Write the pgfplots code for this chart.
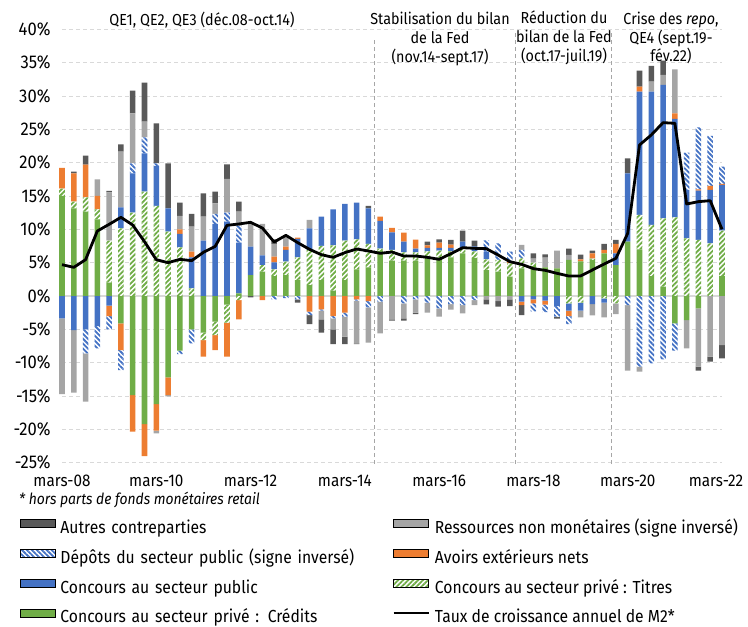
\documentclass[border=0pt]{standalone}
\usepackage{fontspec}
\setmainfont{Fira Sans}[FakeStretch=0.9]
\usepackage{pgfplots}
\pgfplotsset{compat=1.18}
\usepackage{pgfplotstable}
\usetikzlibrary{patterns.meta}

\definecolor{cAut}{HTML}{595959}
\definecolor{cRes}{HTML}{A5A5A5}
\definecolor{cBlue}{HTML}{4472C4}
\definecolor{cOra}{HTML}{ED7D31}
\definecolor{cGrn}{HTML}{70AD47}
\definecolor{cGrid}{HTML}{D9D9D9}
\definecolor{cVl}{HTML}{A6A6A6}

\pgfplotstableread{
i crd tit pub avo dep res aut m2
0 15.0 1.1 -3.35 3.1 0 -11.35 0 4.7
1 13.15 1.0 -5.1 4.25 0 -9.4 0.25 4.3
2 12.65 2.15 -5.0 4.9 -3.6 -7.25 1.35 5.45
3 11.5 1.5 -4.5 2.0 -3.35 2.5 0 9.75
4 2.0 6.3 -1.45 -1.55 -2.0 7.25 0.2 10.75
5 -4.1 10.15 3.15 -4.0 -3.0 8.35 1.1 11.8
6 -14.85 12.5 5.9 -5.5 1.5 7.5 3.4 10.65
7 -19.2 15.65 5.75 -4.8 2.4 2.35 5.85 8.15
8 -16.2 13.5 6.0 -4.0 0.4 -0.4 6.0 5.45
9 -12.2 9.65 3.5 -2.65 0 -0.2 6.75 5.0
10 -8.2 7.3 2.0 0.7 -0.5 2.0 2.0 5.5
11 -5.0 1.15 4.65 0.85 -2.1 3.75 1.9 5.3
12 -5.5 -1.1 8.3 -2.5 0 3.6 3.5 6.55
13 -3.85 -2.0 10.8 -2.25 1.5 1.6 1.75 7.45
14 -1.3 -2.7 11.15 -5.1 1.35 5.05 2.2 10.6
15 0.4 -0.6 7.6 -2.9 2.5 2.15 1.5 10.8
16 3.15 0 4.25 0 0 3.6 -0.2 11.05
17 3.65 1.0 1.45 -0.6 0 4.7 0 10.2
18 3.0 1.0 1.05 0.85 -0.5 1.9 0.7 8.1
19 3.15 2.0 1.75 0.5 -0.3 1.7 0 9.1
20 2.4 3.4 2.75 0.2 -0.5 0 -0.5 8.0
21 1.65 5.25 3.25 -2.35 -0.5 1.25 -1.35 7.0
22 2.4 5.1 4.4 -2.0 -0.2 -1.3 -2.0 6.2
23 0.8 6.8 5.4 -3.0 -0.35 -1.65 -2.2 5.8
24 2.4 5.9 5.5 -2.5 -0.6 -3.0 -1.1 6.5
25 4.0 4.5 5.5 -0.5 -0.2 -6.4 -0.1 7.05
26 4.3 3.5 5.35 -0.75 -0.95 -5.3 0.35 6.75
27 6.75 0.35 4.15 0.65 -0.85 -4.75 0 6.4
28 5.3 1.6 2.65 0.65 0 -3.5 -0.2 6.6
29 5.3 1.25 1.6 1.35 -1.1 -2.25 -0.35 6.0
30 5.3 1.25 0.55 1.35 -0.5 -2.0 -0.2 6.0
31 5.8 0.9 0.5 0.4 -1.0 -1.5 0.55 5.8
32 5.8 1.0 0.4 0.8 -1.85 -1.25 0.5 5.5
33 5.8 0.9 0.5 0.5 -1.2 -0.85 0.7 6.35
34 6.4 0.85 0.9 0 -1.35 -1.25 1.65 7.25
35 5.7 1.0 0.75 0 -0.6 -0.75 0.85 7.15
36 3.9 1.6 1.15 0 1.7 -0.5 -0.75 7.1
37 3.65 1.75 0 0 2.5 -0.75 -0.85 6.15
38 2.9 2.0 0 0.25 1.5 -0.5 -1.0 5.15
39 4.15 1.5 -0.85 -0.5 1.25 0.75 -1.5 4.75
40 4.5 0.5 -0.5 -0.6 -1.2 0.6 0.8 4.1
41 4.3 0 -0.7 -0.6 -1.1 1.45 0.5 3.85
42 4.15 0 -1.5 0 -1.6 2.65 -0.3 3.4
43 5.4 -1.1 -1.1 -0.8 -1.2 0.75 0.95 3.0
44 5.2 -1.0 -1.2 0.3 0 -1.0 0.7 3.0
45 5.4 0.2 -1.2 0.8 0 -1.7 0.4 3.9
46 6.4 -0.35 -0.65 0.5 0 -2.2 0.9 4.8
47 4.65 -1.1 1.75 1.4 0 -1.6 0.6 5.65
48 8.15 0 10.25 0 -1.35 -9.85 2.25 9.4
49 7.0 5.15 18.5 0.75 -10.6 -0.75 2.4 22.65
50 3.0 7.65 20.0 0 -10.1 1.5 2.35 24.15
51 1.4 10.25 20.0 0 -9.5 1.5 2.15 26.0
52 -4.1 11.8 14.75 0.85 -4.1 6.6 0 25.9
53 -3.6 8.65 7.25 0 5.6 -4.25 0 13.8
54 -1.85 8.4 7.4 0.2 9.3 -8.75 -0.6 14.15
55 0 7.9 8.0 0.6 7.5 -9.1 -0.75 14.3
56 3.0 6.8 6.85 0.15 2.6 -7.35 -2.0 10.0
}\data

\tikzset{
  hatchG/.style={fill=white, postaction={pattern={Lines[angle=45,distance=3.5bp,line width=1.8bp]}, pattern color=cGrn}},
  hatchB/.style={fill=white, postaction={pattern={Lines[angle=-45,distance=3.5bp,line width=1.8bp]}, pattern color=cBlue}},
}

\pgfplotsset{
  base/.style={scale only axis, width=660bp, height=433.4bp,
    xmin=0, xmax=56, ymin=-25, ymax=40, clip=false,
    at={(62bp,164.3bp)}, anchor=south west,
    axis line style={draw=none}, tick style={draw=none}},
  bars/.style={ybar stacked, bar width=0.47},
}

\newcommand{\pos}[2]{\addplot[#1, draw=none] table[x=i, y expr={max(\thisrow{#2},0)}] {\data};}
\newcommand{\nega}[2]{\addplot[#1, draw=none] table[x=i, y expr={min(\thisrow{#2},0)}] {\data};}

\begin{document}
\begin{tikzpicture}
\path[use as bounding box] (0,0) rectangle (748bp,627bp);

% axis 1: grid, ticks, positive stacks
\begin{axis}[base, bars,
  ymajorgrids, major grid style={cGrid, dash pattern=on 4bp off 3bp, line width=0.9bp},
  ytick={-25,-20,...,40},
  yticklabels={-25\%,-20\%,-15\%,-10\%,-5\%,0\%,5\%,10\%,15\%,20\%,25\%,30\%,35\%,40\%},
  yticklabel style={font=\fontsize{18.5}{22}\selectfont, xshift=-8bp},
  xtick={0,8,...,48},
  xticklabels={mars-08,mars-10,mars-12,mars-14,mars-16,mars-18,mars-20},
  xticklabel style={font=\fontsize{17}{20}\selectfont, yshift=-9bp},
  extra x ticks={56}, extra x tick labels={mars-22},
  extra x tick style={xticklabel style={xshift=-6bp}},
  extra y ticks={0}, extra y tick labels={},
  extra y tick style={grid=major, major grid style={cGrid, solid, line width=1.8bp}},
]
\pos{fill=cGrn}{crd}
\pos{hatchG}{tit}
\pos{fill=cBlue}{pub}
\pos{fill=cOra}{avo}
\pos{hatchB}{dep}
\pos{fill=cRes}{res}
\pos{fill=cAut}{aut}
\end{axis}

% axis 2: negative stacks
\begin{axis}[base, bars, ticks=none]
\nega{fill=cGrn}{crd}
\nega{hatchG}{tit}
\nega{fill=cBlue}{pub}
\nega{fill=cOra}{avo}
\nega{hatchB}{dep}
\nega{fill=cRes}{res}
\nega{fill=cAut}{aut}
\end{axis}

% axis 3: line, separators, legend
\begin{axis}[base, ticks=none,
  legend columns=2,
  legend cell align=left,
  legend style={draw=none, fill=none, inner sep=0pt, outer sep=0pt,
    at={(-0.0636,-0.1310)}, anchor=north west,
    font=\fontsize{17.5}{21}\selectfont,
    nodes={inner sep=0pt, text height=13bp, text depth=4bp},
    row sep=11.5bp,
    /tikz/every odd column/.style={column sep=5bp},
    /tikz/column 2/.style={column sep=14bp, nodes={text width=318bp, align=left}}},
  legend image code/.code={\path[#1] (0bp,1.5bp) rectangle (35bp,9.5bp);},
]
\draw[cVl, dash pattern=on 4bp off 3bp, line width=0.9bp] (axis cs:26.5,-25.2) -- (axis cs:26.5,38.4);
\draw[cVl, dash pattern=on 4bp off 3bp, line width=0.9bp] (axis cs:38.5,-25.2) -- (axis cs:38.5,39.6);
\draw[cVl, dash pattern=on 4bp off 3bp, line width=0.9bp] (axis cs:46.6,-25.2) -- (axis cs:46.6,39.6);
\addplot[forget plot, black, line width=2.8bp, line join=round, mark=none] table[x=i, y=m2] {\data};
\addlegendimage{fill=cAut} \addlegendentry{Autres contreparties}
\addlegendimage{fill=cRes} \addlegendentry{Ressources non monétaires (signe inversé)}
\addlegendimage{hatchB} \addlegendentry{Dépôts du secteur public (signe inversé)}
\addlegendimage{fill=cOra} \addlegendentry{Avoirs extérieurs nets}
\addlegendimage{fill=cBlue} \addlegendentry{Concours au secteur public}
\addlegendimage{hatchG} \addlegendentry{Concours au secteur privé : Titres}
\addlegendimage{fill=cGrn} \addlegendentry{Concours au secteur privé : Crédits}
\addlegendimage{legend image code/.code={\draw[black, line width=2.5bp] (0bp,5.5bp) -- (35bp,5.5bp);}} \addlegendentry{Taux de croissance annuel de M2*}
\end{axis}

\node[font=\fontsize{16}{19}\selectfont] at (202bp,607bp) {QE1, QE2, QE3 (déc.08-oct.14)};
\node[font=\fontsize{16}{19}\selectfont, align=center] at (440bp,588bp) {Stabilisation du bilan\\de la Fed\\(nov.14-sept.17)};
\node[font=\fontsize{16}{19}\selectfont, align=center] at (564bp,589bp) {Réduction du\\bilan de la Fed\\(oct.17-juil.19)};
\node[font=\fontsize{16}{19}\selectfont, align=center] at (671bp,589bp) {Crise des \textit{repo},\\QE4 (sept.19-\\fév.22)};
\node[font=\itshape\fontsize{15.5}{18}\selectfont, anchor=west, inner sep=1bp] at (18bp,127bp) {* hors parts de fonds monétaires retail};
\end{tikzpicture}
\end{document}
